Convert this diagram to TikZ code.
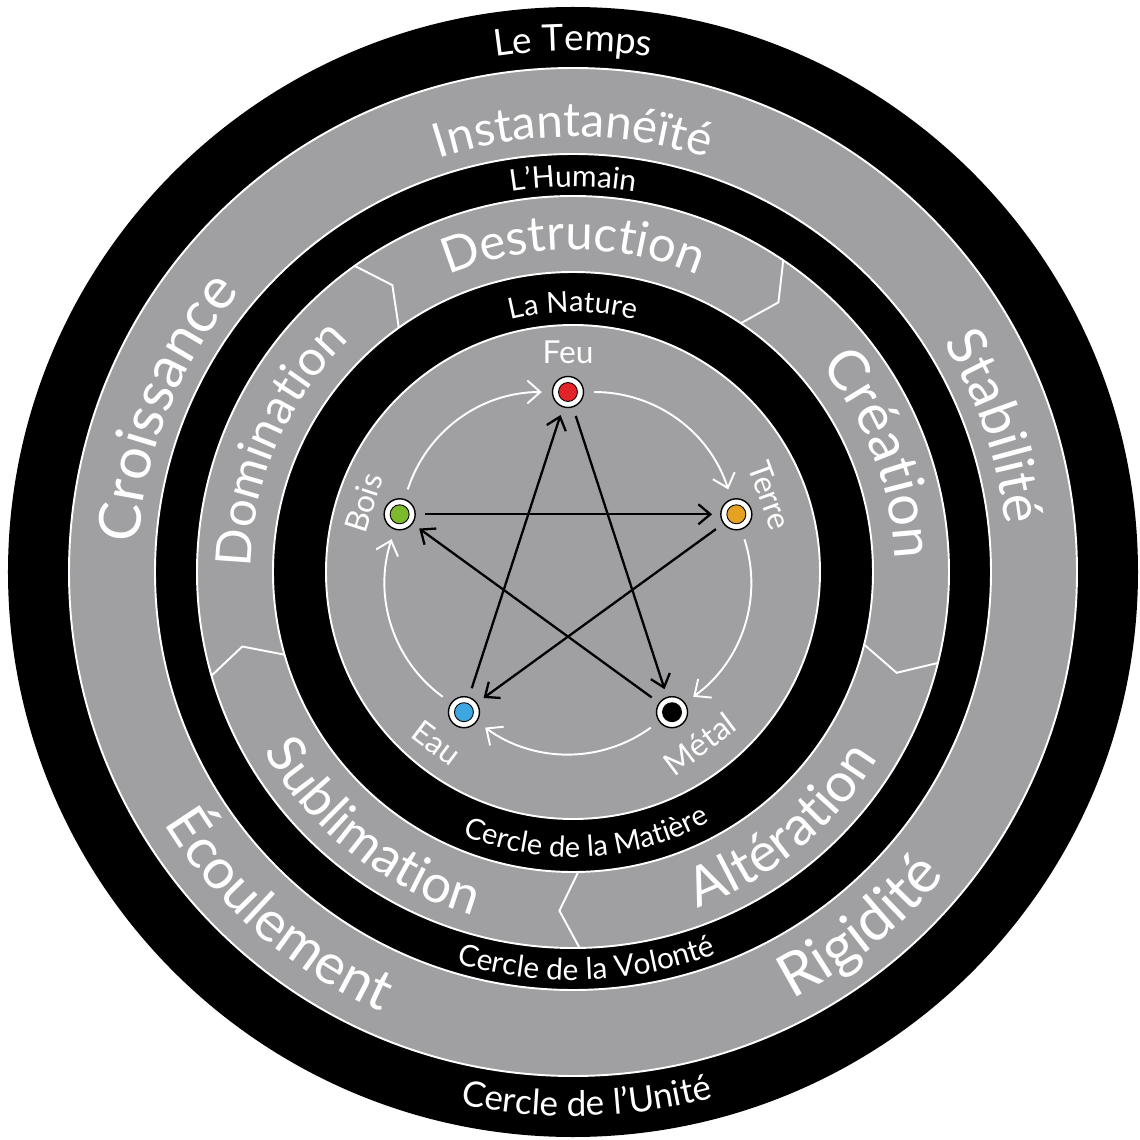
\documentclass[tikz,border=0pt]{standalone}
\usepackage{fontspec}
\setmainfont{Lato}
\usepackage{tikz}
\usetikzlibrary{arrows.meta,decorations.text}
\definecolor{ringgray}{RGB}{160,159,161}
\definecolor{feured}{RGB}{226,35,40}
\definecolor{terreorange}{RGB}{230,162,35}
\definecolor{eaublue}{RGB}{62,166,224}
\definecolor{boisgreen}{RGB}{125,185,45}

% texte sur un arc, sens horaire (lettres vers l'exterieur)
\newcommand{\arctextcw}[4]{%
  \path[decorate, decoration={text along path, text align=center,
      text={|\color{white}\fontsize{#3}{#3}\selectfont|#4}}]
    (#1+80:#2) arc[start angle=#1+80, end angle=#1-80, radius=#2];}
% texte sur un arc, sens direct (lettres vers le centre)
\newcommand{\arctextccw}[4]{%
  \path[decorate, decoration={text along path, text align=center,
      text={|\color{white}\fontsize{#3}{#3}\selectfont|#4}}]
    (#1-80:#2) arc[start angle=#1-80, end angle=#1+80, radius=#2];}

\begin{document}
\begin{tikzpicture}[x=0.2mm, y=0.2mm,
    ringline/.style={white, line width=1.1pt},
    divline/.style={white, line width=1.1pt, line join=miter},
    elem/.style={circle, draw=black, line width=0.8pt, fill=white,
        minimum size=6.2mm, inner sep=0pt,
        path picture={\draw[fill=#1, line width=0.5pt]
          (path picture bounding box.center) circle[radius=1.9mm];}},
    elemlbl/.style={text=white, font=\fontsize{18}{18}\selectfont, inner sep=0pt},
    cycline/.style={white, line width=1.1pt,
        -{Straight Barb[length=2.6mm, width=4.6mm]},
        shorten <=2mm, shorten >=2mm},
    starline/.style={black, line width=1.3pt,
        -{Straight Barb[length=2.4mm, width=4mm]},
        shorten <=1.8mm, shorten >=1.6mm},
  ]
  \useasboundingbox (-573,-568) rectangle (567,572);
  \fill[white] (-573,-568) rectangle (567,572);

  % anneaux
  \fill[black] (0,0) circle[radius=565];
  \fill[ringgray] (0,0) circle[radius=504];
  \fill[black] (0,0) circle[radius=418];
  \fill[ringgray] (0,0) circle[radius=376];
  \fill[black] (0,0) circle[radius=300];
  \fill[ringgray] (0,0) circle[radius=247];
  \foreach \r in {504,418,376,300,247}
    \draw[ringline] (0,0) circle[radius=\r];

  % separations de l'anneau des forces
  \foreach \a in {125.5,56,-14,-89,196}
    \draw[divline] (\a:376) -- (\a-3.3:339) -- (\a:300);

  % Cercle de l'Unite
  \arctextcw{90}{521}{21}{Le Temps}
  \arctextccw{-88.5}{544}{20}{Cercle de l'Unité}
  \arctextcw{90}{435}{27}{Instantanéïté}
  \arctextcw{19}{435}{31}{Stabilité}
  \arctextccw{-51}{480}{34}{Rigidité}
  \arctextccw{-131}{480}{32}{Écoulement}
  \arctextcw{158}{435}{33}{Croissance}

  % Cercle de la Volonte
  \arctextcw{90}{385}{17}{L'Humain}
  \arctextccw{-88}{408}{17}{Cercle de la Volonté}
  \arctextcw{90}{322}{28}{Destruction}
  \arctextcw{21}{322}{32}{Création}
  \arctextccw{-50.5}{358}{31}{Altération}
  \arctextccw{-128}{358}{30}{Sublimation}
  \arctextcw{156.5}{322}{28}{Domination}

  % Cercle de la Matiere
  \arctextcw{90}{260}{16.5}{La Nature}
  \arctextccw{-87}{285}{16.5}{Cercle de la Matière}

  \begin{scope}[shift={(-5,3)}]
    % elements
    \node[elem=feured] (feu) at (90:177) {};
    \node[elem=terreorange] (terre) at (18:177) {};
    \node[elem=black] (metal) at (-54:177) {};
    \node[elem=eaublue] (eau) at (-126:177) {};
    \node[elem=boisgreen] (bois) at (162:177) {};

    \node[elemlbl] (feulbl) at (90:217) {Feu};
    \node[elemlbl, rotate=-70] (terrelbl) at (20:215) {Terre};
    \node[elemlbl, rotate=37] (metallbl) at (-53:219) {Métal};
    \node[elemlbl, rotate=-37] (eaulbl) at (-127:218) {Eau};
    \node[elemlbl, rotate=72] (boislbl) at (162:215) {Bois};

    % cycle d'engendrement
    \draw[cycline] (feu) to[bend left=36] (terre);
    \draw[cycline] (terre) to[bend left=36] (metal);
    \draw[cycline] (metal) to[bend left=36] (eau);
    \draw[cycline] (eau) to[bend left=36] (bois);
    \draw[cycline] (bois) to[bend left=36] (feu);

    % cycle de domination
    \draw[starline] (feu) -- (metal);
    \draw[starline] (metal) -- (bois);
    \draw[starline] (bois) -- (terre);
    \draw[starline] (terre) -- (eau);
    \draw[starline] (eau) -- (feu);
  \end{scope}
\end{tikzpicture}
\end{document}
